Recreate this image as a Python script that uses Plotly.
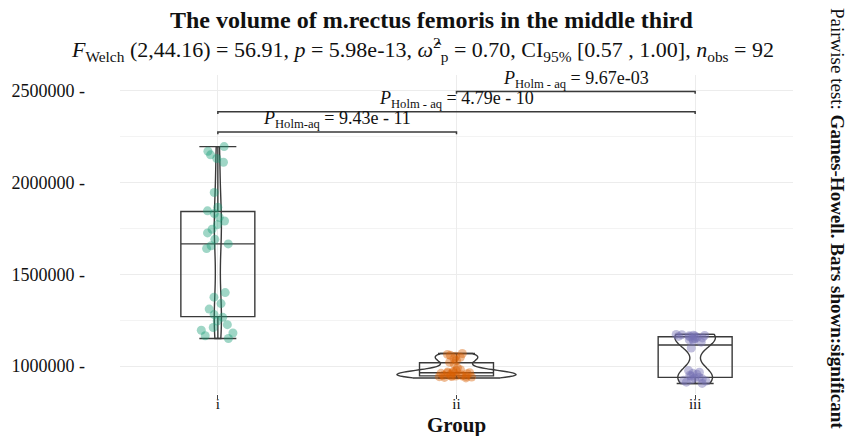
import numpy as np
import plotly.graph_objects as go

# Muscle volume per group (mm^3)
groups = ["i", "ii", "iii"]
volume_i = [1150000, 1165000, 1180000, 1195000, 1210000, 1225000, 1245000, 1265000,
            1280000, 1310000, 1340000, 1375000, 1400000, 1640000, 1655000, 1665000,
            1690000, 1725000, 1745000, 1770000, 1790000, 1810000, 1830000, 1845000,
            1865000, 1945000, 2110000, 2130000, 2150000, 2170000, 2195000]
volume_ii = [935000, 938000, 940000, 942000, 943000, 944000, 945000, 946000,
             946500, 950000, 953000, 956000, 958000, 960000, 962000, 963000,
             965000, 967000, 970000, 974000, 980000, 990000, 1012000, 1020000,
             1030000, 1040000, 1047000, 1053000, 1058000, 1063000, 1068000]
volume_iii = [905000, 912000, 918000, 922000, 926000, 930000, 934000, 938000,
              945000, 950000, 955000, 960000, 966000, 975000, 1098000, 1130000,
              1138000, 1143000, 1147000, 1150000, 1153000, 1156000, 1159000, 1161000,
              1163000, 1165000, 1166000, 1168000, 1170000, 1172000]
volumes = [volume_i, volume_ii, volume_iii]

y_ticks = [1000000, 1500000, 2000000, 2500000]

# Games-Howell pairwise comparisons shown as brackets
pairs = [(0, 1), (0, 2), (1, 2)]
pair_labels = [
    "<i>P</i><sub>Holm-aq</sub> = 9.43e - 11",
    "<i>P</i><sub>Holm - aq</sub> = 4.79e - 10",
    "<i>P</i><sub>Holm - aq</sub> = 9.67e-03",
]

title_text = "<b>The volume of m.rectus femoris in the middle third</b>"
subtitle_text = ("<i>F</i><sub>Welch</sub> (2,44.16) = 56.91, <i>p</i> = 5.98e-13, "
                 "<i>ω̂</i><sup>2</sup><sub>p</sub> = 0.70, CI<sub>95%</sub> [0.57 , 1.00], "
                 "<i>n</i><sub>obs</sub> = 92")
caption_text = "Pairwise test: <b>Games-Howell. Bars shown:significant</b>"

# Styling
point_colors = ["rgba(27,158,119,0.42)", "rgba(217,95,2,0.42)", "rgba(117,112,179,0.45)"]
violin_widths = [0.03, 0.5, 0.17]
box_width = 0.31
line_col = "#3a3a3a"
serif = "Liberation Serif"

# Panel geometry in pixels
W, H = 855, 436
L, R, T, B = 120, 793, 75, 394


def px_x(x):
    return (x - L) / (R - L)


def px_y(y):
    return (B - y) / (B - T)


def nrd0(v):
    v = np.asarray(v, dtype=float)
    sd = v.std(ddof=1)
    q75, q25 = np.percentile(v, [75, 25])
    lo = min(sd, (q75 - q25) / 1.34)
    return 0.9 * lo * len(v) ** -0.2


fig = go.Figure()

for k, vals in enumerate(volumes):
    n = len(vals)
    fig.add_trace(go.Violin(
        x=[k] * n, y=vals, width=violin_widths[k], spanmode="hard",
        bandwidth=nrd0(vals), points=False, scalemode="width",
        line=dict(color=line_col, width=1.4), fillcolor="rgba(255,255,255,0)",
        box_visible=False, meanline_visible=False, hoverinfo="skip",
    ))
    fig.add_trace(go.Box(
        x=[k] * n, y=vals, width=box_width, boxpoints="all", jitter=0.55,
        pointpos=0, quartilemethod="linear",
        line=dict(color=line_col, width=1.4), fillcolor="rgba(255,255,255,0)",
        marker=dict(color=point_colors[k], size=9, line=dict(width=0)),
        hoverinfo="skip",
    ))

# Significance brackets stacked above the highest observation
top = max(max(v) for v in volumes)
step = 110000
hook = 12000
for j, ((a, b), lab) in enumerate(zip(pairs, pair_labels)):
    yb = top + 80000 + j * step
    fig.add_trace(go.Scatter(
        x=[a, a, b, b], y=[yb - hook, yb, yb, yb - hook], mode="lines",
        line=dict(color=line_col, width=1.5), hoverinfo="skip",
    ))
    fig.add_annotation(
        x=(a + b) / 2, y=yb, xref="x", yref="y", text=lab, showarrow=False,
        yanchor="bottom", yshift=-1, font=dict(family=serif, size=18, color="#111"),
    )

fig.add_annotation(x=px_x(431), y=px_y(20), xref="paper", yref="paper", text=title_text,
                   showarrow=False, xanchor="center", yanchor="middle",
                   font=dict(family=serif, size=24, color="#111"))
fig.add_annotation(x=px_x(422), y=px_y(50), xref="paper", yref="paper", text=subtitle_text,
                   showarrow=False, xanchor="center", yanchor="middle",
                   font=dict(family=serif, size=22, color="#111"))
fig.add_annotation(x=px_x(838), y=px_y(218), xref="paper", yref="paper", text=caption_text,
                   showarrow=False, textangle=90, xanchor="center", yanchor="middle",
                   font=dict(family=serif, size=19, color="#111"))
fig.add_annotation(x=px_x(456), y=px_y(425), xref="paper", yref="paper", text="<b>Group</b>",
                   showarrow=False, xanchor="center", yanchor="middle",
                   font=dict(family=serif, size=21, color="#111"))

fig.update_layout(
    width=W, height=H, showlegend=False,
    margin=dict(l=L, r=W - R, t=T, b=H - B),
    paper_bgcolor="white", plot_bgcolor="white",
    boxmode="overlay", violinmode="overlay",
    xaxis=dict(range=[-0.41, 2.41], tickvals=[0, 1, 2], ticktext=groups,
               showgrid=True, gridcolor="#ececec", gridwidth=1, zeroline=False,
               showline=False, ticks="outside", ticklen=4, tickcolor="#444",
               ticklabelstandoff=-8,
               tickfont=dict(family=serif, size=15, color="#111")),
    yaxis=dict(range=[1000000 - (B - 366) * 5447, 1000000 + (366 - T) * 5447],
               tickvals=y_ticks, ticktext=[f"{v} -" for v in y_ticks],
               showgrid=True, gridcolor="#ececec", gridwidth=1, zeroline=False,
               showline=False, ticks="", ticklabelstandoff=34,
               minor=dict(dtick=250000, tick0=0, showgrid=True, gridcolor="#f3f3f3"),
               tickfont=dict(family=serif, size=18, color="#111")),
)

fig.write_html("out.html")
